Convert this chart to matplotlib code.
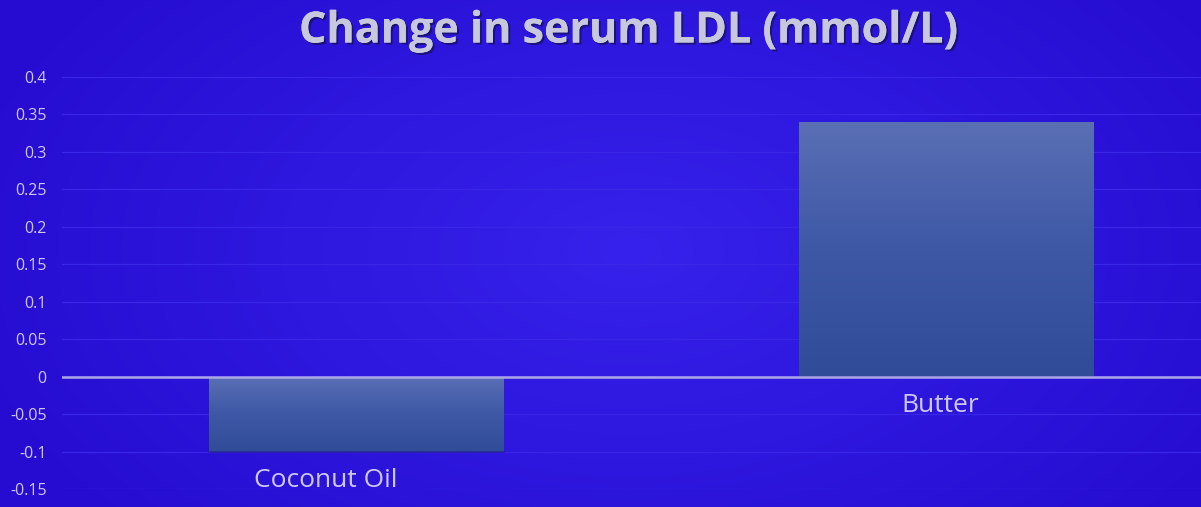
import numpy as np
import matplotlib
matplotlib.use("Agg")
import matplotlib.pyplot as plt
import matplotlib.patheffects as pe
from matplotlib.colors import LinearSegmentedColormap

categories = ["Coconut Oil", "Butter"]
values = [-0.10, 0.34]
yticks = [-0.15, -0.1, -0.05, 0, 0.05, 0.1, 0.15, 0.2, 0.25, 0.3, 0.35, 0.4]
ytick_labels = ["-0.15", "-0.1", "-0.05", "0", "0.05", "0.1", "0.15", "0.2", "0.25", "0.3", "0.35", "0.4"]
title = "Change in serum LDL (mmol/L)"
label_dx = [-22, -4]  # label offsets (points) as seen in the reference

W, H = 1201, 507
fig = plt.figure(figsize=(W / 100, H / 100), dpi=100)

# background radial gradient
bg = fig.add_axes([0, 0, 1, 1], zorder=0)
yy, xx = np.mgrid[0:H, 0:W]
d = np.sqrt(((xx - 630) / 700.0) ** 2 + ((yy - 250) / 420.0) ** 2)
d = np.clip(d, 0, 1)[..., None]
c_center = np.array([54, 34, 236]) / 255.0
c_edge = np.array([38, 12, 208]) / 255.0
img = c_center * (1 - d) + c_edge * d
bg.imshow(img, aspect="auto", extent=[0, W, H, 0])
bg.set_axis_off()

ax = fig.add_axes([62 / W, (H - 489) / H, (W - 62) / W, (489 - 77) / H], zorder=1)
ax.patch.set_alpha(0)

x = np.arange(len(categories))
bars = ax.bar(x, values, width=0.5, color="#4862B0", zorder=3, edgecolor="none")

cmap = LinearSegmentedColormap.from_list("bar", ["#5A6FB4", "#3E58A6", "#304C98"])
for b in bars:
    x0, y0 = b.get_x(), b.get_y()
    w, h = b.get_width(), b.get_height()
    ylo, yhi = min(y0, y0 + h), max(y0, y0 + h)
    grad = np.linspace(0, 1, 256)[:, None]
    ax.imshow(grad, cmap=cmap, aspect="auto", extent=[x0, x0 + w, ylo, yhi],
              origin="upper", zorder=3.5, clip_path=b, clip_on=True)
    ax.plot([x0, x0 + w], [ylo, ylo], color="#1E1A80", lw=1.2, zorder=3.6, alpha=0.6)
ax.set_xlim(-0.5, 1.433)
ax.set_ylim(-0.15, 0.4)

ax.set_yticks(yticks)
ax.set_yticklabels(ytick_labels)
ax.tick_params(axis="y", length=0, pad=11, labelsize=11.5, labelcolor="#CFC8F2")
for lab in ax.get_yticklabels():
    lab.set_fontfamily("Open Sans")
ax.set_xticks([])
for s in ax.spines.values():
    s.set_visible(False)
ax.grid(axis="y", color="#3A26E6", lw=0.9, zorder=1)
ax.axhline(0, color="#ADA8E8", lw=1.8, zorder=4)

for xi, v, name, dx in zip(x, values, categories, label_dx):
    ax.annotate(name, xy=(xi, min(0, v)), xytext=(dx, -21), textcoords="offset points",
                ha="center", va="center", fontsize=19, color="#CFC8F2",
                family="Open Sans", zorder=5)

fig.text(628 / W, 1 - 31 / H, title, ha="center", va="center", fontsize=31,
         fontweight="bold", family="Open Sans", color="#C8C8DC",
         path_effects=[pe.withSimplePatchShadow(offset=(1.5, -1.5), shadow_rgbFace="#101040", alpha=0.6),
                       pe.Normal()])

fig.savefig("out.png", dpi=100)
